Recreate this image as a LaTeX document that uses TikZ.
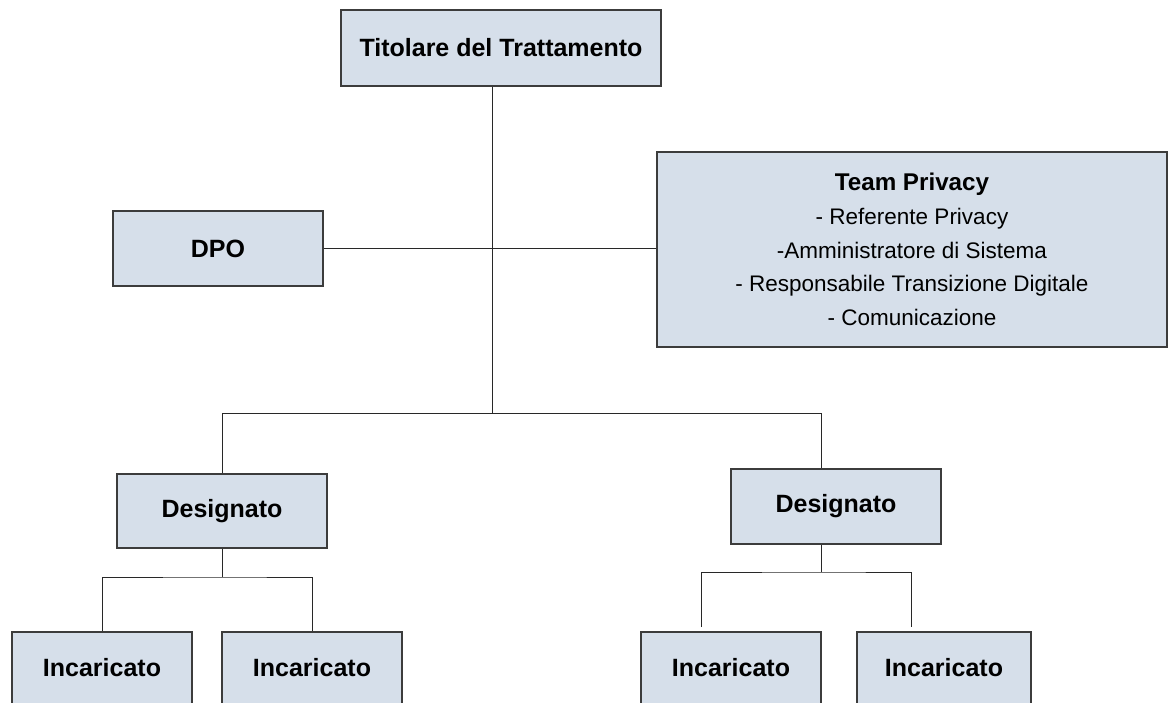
\documentclass[tikz,border=0pt]{standalone}
\usepackage{fontspec}
\setmainfont{Liberation Sans}
\definecolor{boxfill}{RGB}{214,223,234}
\definecolor{boxline}{RGB}{60,60,60}
\definecolor{lineclr}{RGB}{40,40,40}
\begin{document}
\begin{tikzpicture}[x=1pt,y=-1pt,
  box/.style={draw=boxline, fill=boxfill, line width=1.1pt, inner sep=0pt,
    font=\bfseries\fontsize{25}{29}\selectfont},
  conn/.style={draw=lineclr, line width=0.9pt}]
\useasboundingbox (0,0) rectangle (1168,702);
\clip (0,0) rectangle (1168,702);
% boxes
\node[box, minimum width=320pt, minimum height=76pt] (tit) at (501,48) {Titolare del Trattamento};
\node[box, minimum width=210pt, minimum height=75pt] (dpo) at (218,248.5) {DPO};
\node[box, minimum width=510pt, minimum height=195pt, align=center,
  font=\mdseries\fontsize{22.5}{33.75}\selectfont] (team) at (912,249.5)
  {{\bfseries\fontsize{24.2}{33.75}\selectfont Team Privacy}\\- Referente Privacy\\-Amministratore di Sistema\\- Responsabile Transizione Digitale\\- Comunicazione};
\node[box, minimum width=210pt, minimum height=74pt] (des1) at (222,511) {Designato};
\node[box, minimum width=210pt, minimum height=75pt] (des2) at (836,506.5) {Designato};
\node[box, minimum width=180pt, minimum height=72pt] (inc1) at (102,668) {Incaricato};
\node[box, minimum width=180pt, minimum height=72pt] (inc2) at (312,668) {Incaricato};
\node[box, minimum width=180pt, minimum height=72pt] (inc3) at (731,668) {Incaricato};
\node[box, minimum width=174pt, minimum height=72pt] (inc4) at (944,668) {Incaricato};
% junctions
\coordinate (trunk) at (492,413);
\coordinate (hl) at (222,413);
\coordinate (hr) at (821,413);
\coordinate (l1) at (222,577);
\coordinate (r1) at (821,572);
\coordinate (r3a) at (701,627);
\coordinate (r3b) at (911,627);
% connectors
\draw[conn] (tit.south -| trunk) -- (trunk);
\draw[conn] (dpo.east) -- (dpo.east -| team.west);
\draw[conn] (des1.north) -- (hl) -- (hr) -- (des2.north -| hr);
\draw[conn] (des1.south) -- (l1);
\draw[conn] (inc1.north) |- (l1) -| (inc2.north);
\draw[conn] (des2.south -| r1) -- (r1);
\draw[conn] (r3a) |- (r1) -| (r3b);
\end{tikzpicture}
\end{document}
